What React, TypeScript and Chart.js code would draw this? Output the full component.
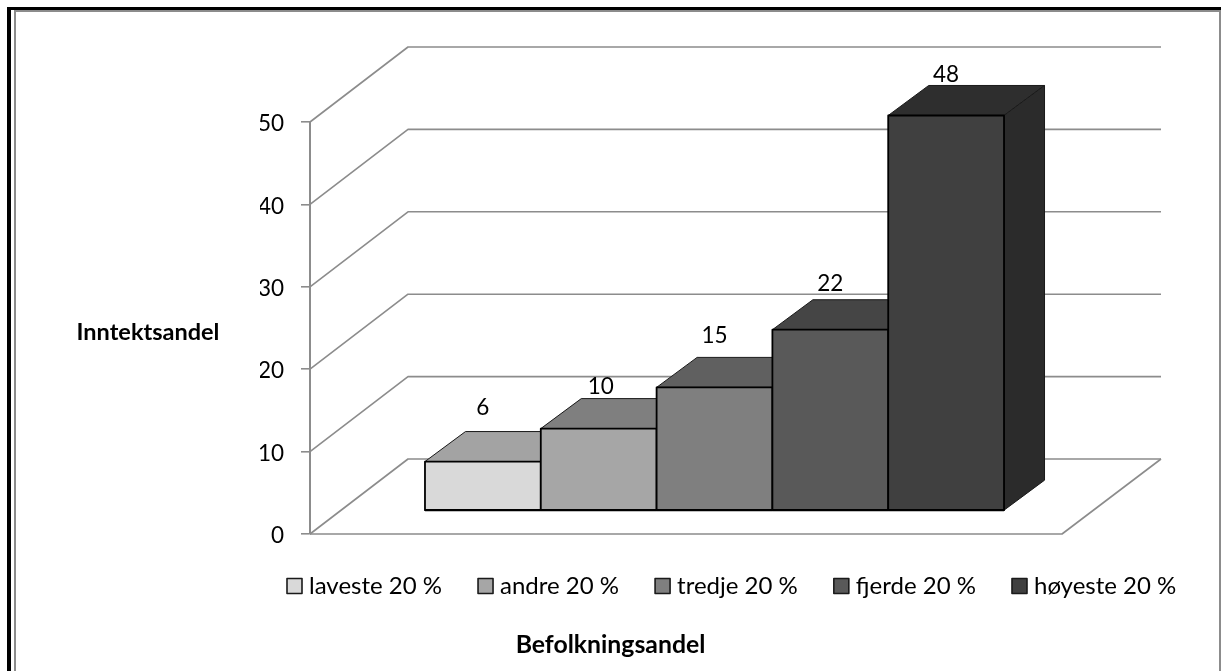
import { useEffect, useRef } from "react";
import { Chart, registerables } from "chart.js";

Chart.register(...registerables);

const seriesNames = ["laveste 20 %", "andre 20 %", "tredje 20 %", "fjerde 20 %", "høyeste 20 %"];
const seriesValues = [6, 10, 15, 22, 48];
const frontColors = ["#d9d9d9", "#a6a6a6", "#7f7f7f", "#595959", "#404040"];
const topColors = ["#a3a3a3", "#7f7f7f", "#606060", "#454545", "#2e2e2e"];
const sideColors = ["#a3a3a3", "#7f7f7f", "#606060", "#454545", "#2b2b2b"];
const labelLifts = [54, 42, 52, 46, 41];
const labelNudges = [0, 2, 0, 0, 0];
const yTicks = [0, 10, 20, 30, 40, 50];

const FONT = "Lato, Carlito, Calibri, sans-serif";
const GREY = "#8c8c8c";
const WALL = { dx: 98, dy: -75 };
const BAR_SHIFT = { dx: 28.5, dy: -23 };
const BAR_DEPTH = { dx: 40.5, dy: -30 };
const LEGEND = { x: 287, y: 586, box: 15, gap: 7, spacing: 36 };

const poly = (ctx: CanvasRenderingContext2D, pts: number[][], fill: string | null, stroke: string, lw: number) => {
  ctx.beginPath();
  pts.forEach(([x, y], i) => (i ? ctx.lineTo(x, y) : ctx.moveTo(x, y)));
  if (fill) {
    ctx.closePath();
    ctx.fillStyle = fill;
    ctx.fill();
  }
  ctx.strokeStyle = stroke;
  ctx.lineWidth = lw;
  ctx.lineJoin = "round";
  ctx.stroke();
};

const scene = {
  id: "scene3d",
  beforeDraw(chart: any) {
    const ctx = chart.ctx as CanvasRenderingContext2D;
    ctx.save();
    ctx.fillStyle = "#ffffff";
    ctx.fillRect(0, 0, chart.width, chart.height);
    ctx.fillStyle = GREY;
    ctx.fillRect(14, 10, 2, chart.height - 10);
    ctx.fillRect(14, 10, 1207, 2);
    ctx.fillRect(1219, 10, 2, chart.height - 10);
    ctx.fillStyle = "#000000";
    ctx.fillRect(7, 7, 4, chart.height - 7);
    ctx.fillRect(7, 7, 1214, 3);
    ctx.restore();
  },
  beforeDatasetsDraw(chart: any) {
    const ctx = chart.ctx as CanvasRenderingContext2D;
    const { left, right } = chart.chartArea;
    const y = chart.scales.y;
    ctx.save();
    yTicks.forEach((t) => {
      const py = y.getPixelForValue(t);
      poly(ctx, [[left, py], [left + WALL.dx, py + WALL.dy], [right + WALL.dx + 1, py + WALL.dy]], null, GREY, 1.6);
    });
    const base = y.getPixelForValue(0);
    poly(ctx, [[left, base], [right, base], [right + WALL.dx + 1, base + WALL.dy]], null, GREY, 1.6);
    ctx.restore();
    ctx.save();
    ctx.translate(BAR_SHIFT.dx, BAR_SHIFT.dy);
  },
  afterDatasetsDraw(chart: any) {
    const ctx = chart.ctx as CanvasRenderingContext2D;
    const { dx, dy } = BAR_DEPTH;
    seriesValues.forEach((_, i) => {
      const bar = chart.getDatasetMeta(i).data[0];
      const x0 = bar.x - bar.width / 2;
      const x1 = bar.x + bar.width / 2;
      const t = bar.y;
      const b = bar.base;
      poly(ctx, [[x0, t], [x0 + dx, t + dy], [x1 + dx, t + dy], [x1, t]], topColors[i], "#1a1a1a", 1);
      poly(ctx, [[x1, t], [x1 + dx, t + dy], [x1 + dx, b + dy], [x1, b]], sideColors[i], "#1a1a1a", 1);
      poly(ctx, [[x0, b], [x0, t], [x1, t], [x1, b]], frontColors[i], "#000000", 1.8);
      poly(ctx, [[x0, b], [x1, b]], null, "#000000", 2.2);
    });
    ctx.restore();

    ctx.save();
    ctx.fillStyle = "#000000";
    ctx.textAlign = "center";
    ctx.textBaseline = "middle";
    ctx.font = `22.5px ${FONT}`;
    seriesValues.forEach((v, i) => {
      const bar = chart.getDatasetMeta(i).data[0];
      ctx.fillText(String(v), bar.x + BAR_SHIFT.dx + labelNudges[i], bar.y + BAR_SHIFT.dy - labelLifts[i]);
    });
    ctx.font = `bold 23.5px ${FONT}`;
    ctx.fillText("Inntektsandel", 148, 332);
    ctx.font = `bold 24.8px ${FONT}`;
    ctx.fillText("Befolkningsandel", 610.5, 645);

    ctx.textAlign = "left";
    ctx.font = `24px ${FONT}`;
    let cursor = LEGEND.x;
    seriesNames.forEach((name, i) => {
      poly(
        ctx,
        [[cursor, LEGEND.y - LEGEND.box / 2], [cursor + LEGEND.box, LEGEND.y - LEGEND.box / 2], [cursor + LEGEND.box, LEGEND.y + LEGEND.box / 2], [cursor, LEGEND.y + LEGEND.box / 2]],
        frontColors[i],
        "#1a1a1a",
        1.6,
      );
      ctx.fillStyle = "#000000";
      const tx = cursor + LEGEND.box + LEGEND.gap;
      ctx.fillText(name, tx, LEGEND.y);
      cursor = tx + ctx.measureText(name).width + LEGEND.spacing;
    });
    ctx.restore();
  },
};

export default function App() {
  const ref = useRef<HTMLCanvasElement>(null);
  useEffect(() => {
    document.body.style.margin = "0";
    const chart = new Chart(ref.current!, {
      type: "bar",
      data: {
        labels: [""],
        datasets: seriesNames.map((label, i) => ({
          label,
          data: [seriesValues[i]],
          backgroundColor: frontColors[i],
          borderWidth: 0,
        })),
      },
      options: {
        responsive: false,
        animation: false,
        events: [],
        categoryPercentage: 0.77,
        barPercentage: 1,
        layout: { padding: { left: 260, right: 161, top: 122, bottom: 137 } },
        scales: {
          x: { display: false },
          y: {
            min: 0,
            max: 50,
            afterFit: (s: any) => { s.width = 50; },
            ticks: { stepSize: 10, color: "#000000", font: { family: FONT, size: 22.5 }, padding: 17, labelOffset: 2 },
            grid: { drawOnChartArea: false, color: GREY, lineWidth: 1.6, tickLength: 9 },
            border: { color: GREY, width: 2 },
          },
        },
        plugins: {
          tooltip: { enabled: false },
          title: { display: false },
          legend: { display: false },
        },
      } as any,
      plugins: [scene],
    });
    return () => chart.destroy();
  }, []);
  return <canvas ref={ref} width={1223} height={671} style={{ display: "block" }} />;
}
